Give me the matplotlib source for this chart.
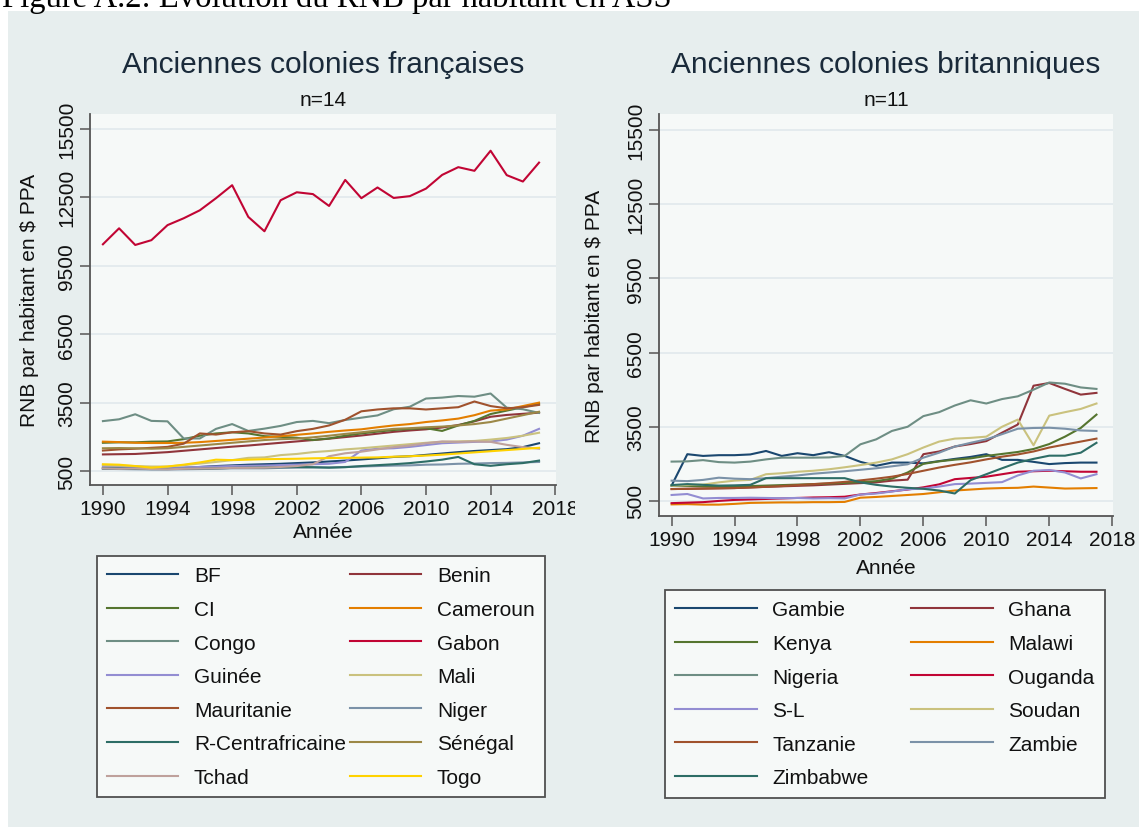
import matplotlib
matplotlib.use("Agg")
import matplotlib.pyplot as plt
from matplotlib.patches import Rectangle
from matplotlib.lines import Line2D
from matplotlib.transforms import Bbox, TransformedBbox

# ---------------- data ----------------
years = list(range(1990, 2018))

fr_names = ["BF", "Benin", "CI", "Cameroun", "Congo", "Gabon", "Guinée", "Mali",
            "Mauritanie", "Niger", "R-Centrafricaine", "Sénégal", "Tchad", "Togo"]

BF = [620, 630, 640, 630, 620, 640, 680, 720, 750, 780, 800, 820, 850, 880,
      920, 960, 1010, 1060, 1120, 1150, 1210, 1270, 1330, 1380, 1420, 1460, 1550, 1720]
Benin = [1230, 1240, 1250, 1290, 1330, 1390, 1450, 1510, 1570, 1620, 1680, 1740, 1800, 1860,
         1920, 1990, 2060, 2140, 2220, 2280, 2330, 2410, 2520, 2680, 2880, 2960, 3010, 3060]
CI = [1740, 1760, 1760, 1790, 1800, 1900, 2050, 2150, 2200, 2150, 2030, 2000, 1960, 1860,
      1930, 2050, 2150, 2230, 2300, 2350, 2380, 2260, 2500, 2700, 3000, 3150, 3300, 3450]
Cameroun = [1790, 1770, 1740, 1730, 1730, 1740, 1770, 1820, 1870, 1920, 1970, 2030, 2090, 2150,
            2220, 2280, 2330, 2420, 2500, 2560, 2650, 2720, 2800, 2950, 3150, 3200, 3350, 3500]
Congo = [2690, 2770, 2990, 2700, 2680, 1930, 1930, 2350, 2560, 2260, 2360, 2480, 2650, 2700,
         2600, 2740, 2840, 2940, 3210, 3320, 3680, 3720, 3790, 3760, 3900, 3280, 3210, 3050]
Gabon = [10440, 11140, 10410, 10620, 11280, 11580, 11930, 12460, 13030, 11640, 11010, 12370, 12720, 12640,
         12120, 13260, 12460, 12930, 12470, 12550, 12880, 13480, 13820, 13660, 14540, 13470, 13190, 14020]
Guinee = [700, 690, 680, 660, 650, 660, 680, 700, 720, 730, 740, 760, 780, 800,
          820, 900, 1400, 1480, 1500, 1560, 1640, 1720, 1750, 1780, 1800, 1880, 2050, 2350]
Mali = [760, 740, 720, 700, 700, 760, 830, 900, 980, 1080, 1100, 1200, 1250, 1330,
        1380, 1450, 1500, 1560, 1620, 1680, 1740, 1780, 1800, 1820, 1880, 1950, 2050, 2180]
Mauritanie = [1400, 1450, 1480, 1520, 1560, 1700, 2150, 2100, 2200, 2250, 2150, 2100, 2250, 2350,
              2500, 2750, 3120, 3200, 3250, 3250, 3200, 3250, 3300, 3550, 3350, 3250, 3300, 3400]
Niger = [600, 590, 580, 570, 570, 580, 590, 600, 620, 620, 620, 640, 650, 660,
         660, 680, 700, 720, 740, 750, 780, 790, 820, 830, 850, 860, 880, 900]
RCA = [620, 610, 600, 590, 590, 600, 600, 620, 640, 650, 660, 670, 680, 670,
       650, 670, 720, 760, 800, 850, 920, 1000, 1120, 800, 730, 800, 850, 960]
Senegal = [1500, 1510, 1500, 1480, 1500, 1560, 1620, 1680, 1740, 1800, 1860, 1900, 1920, 1980,
           2050, 2130, 2200, 2280, 2350, 2380, 2420, 2450, 2500, 2560, 2650, 2800, 2950, 3100]
Tchad = [620, 600, 610, 590, 580, 600, 610, 620, 640, 640, 650, 680, 720, 800,
         1150, 1280, 1350, 1450, 1550, 1620, 1720, 1800, 1780, 1800, 1780, 1650, 1550, 1480]
Togo = [800, 780, 720, 650, 700, 780, 880, 1000, 980, 1000, 1020, 1030, 1040, 1060,
        1070, 1080, 1090, 1100, 1130, 1150, 1180, 1220, 1270, 1320, 1370, 1420, 1470, 1520]

fr_series = [BF, Benin, CI, Cameroun, Congo, Gabon, Guinee, Mali,
             Mauritanie, Niger, RCA, Senegal, Tchad, Togo]

br_names = ["Gambie", "Ghana", "Kenya", "Malawi", "Nigeria", "Ouganda", "S-L",
            "Soudan", "Tanzanie", "Zambie", "Zimbabwe"]

Gambie = [1120, 2390, 2320, 2350, 2350, 2380, 2520, 2320, 2430, 2350, 2470, 2320, 2080, 1920,
          2050, 2050, 2020, 2110, 2200, 2280, 2390, 2160, 2160, 2080, 1990, 2030, 2050, 2050]
Ghana = [980, 990, 1000, 1010, 1020, 1050, 1070, 1090, 1110, 1130, 1160, 1190, 1220, 1250,
         1320, 1360, 2390, 2500, 2700, 2800, 2920, 3260, 3590, 5160, 5270, 5030, 4800, 4870]
Kenya = [1120, 1110, 1090, 1080, 1090, 1100, 1120, 1140, 1160, 1180, 1200, 1230, 1260, 1300,
         1400, 1650, 2000, 2100, 2170, 2220, 2320, 2400, 2480, 2600, 2800, 3100, 3450, 3990]
Malawi = [360, 370, 350, 350, 380, 420, 430, 440, 440, 450, 450, 460, 630, 660,
          700, 740, 780, 850, 920, 960, 1000, 1020, 1030, 1080, 1040, 1000, 1010, 1020]
Nigeria = [2090, 2100, 2150, 2070, 2050, 2090, 2180, 2250, 2250, 2250, 2260, 2320, 2790, 2990,
           3330, 3500, 3930, 4090, 4360, 4570, 4440, 4620, 4730, 5000, 5290, 5240, 5090, 5030]
Ouganda = [410, 430, 450, 500, 540, 560, 580, 600, 620, 640, 650, 670, 760, 820,
           890, 960, 1050, 1170, 1380, 1430, 1480, 1580, 1680, 1700, 1720, 1700, 1680, 1680]
SL = [740, 780, 600, 620, 620, 630, 620, 610, 620, 600, 610, 600, 760, 800,
      880, 970, 1000, 1080, 1180, 1200, 1230, 1260, 1530, 1720, 1750, 1650, 1410, 1580]
Soudan = [1120, 1150, 1160, 1250, 1320, 1350, 1580, 1620, 1680, 1720, 1780, 1860, 1950, 2050,
          2180, 2390, 2660, 2900, 3020, 3050, 3100, 3500, 3790, 2750, 3950, 4090, 4220, 4440]
Tanzanie = [980, 990, 1000, 1010, 1020, 1040, 1070, 1100, 1140, 1180, 1220, 1270, 1330, 1400,
            1480, 1590, 1720, 1850, 1960, 2060, 2180, 2290, 2380, 2500, 2660, 2780, 2900, 3020]
Zambie = [1320, 1300, 1350, 1440, 1400, 1380, 1420, 1480, 1530, 1600, 1650, 1700, 1760, 1820,
          1900, 1980, 2250, 2450, 2700, 2850, 2990, 3200, 3420, 3450, 3460, 3420, 3350, 3330]
Zimbabwe = [1140, 1180, 1150, 1120, 1130, 1150, 1420, 1420, 1420, 1420, 1420, 1420, 1250, 1150,
            1080, 1030, 990, 920, 800, 1340, 1580, 1820, 2050, 2200, 2330, 2330, 2450, 2850]

br_series = [Gambie, Ghana, Kenya, Malawi, Nigeria, Ouganda, SL, Soudan, Tanzanie, Zambie, Zimbabwe]

yticks = [500, 3500, 6500, 9500, 12500, 15500]
xticks = [1990, 1994, 1998, 2002, 2006, 2010, 2014, 2018]

# Stata s2color palette
palette = ["#1a476f", "#90353b", "#55752f", "#e37e00", "#6e8e84", "#c10534", "#938dd2",
           "#cac27e", "#a0522d", "#7b92a8", "#2d6d66", "#9c8847", "#bfa19c", "#ffd200"]

BG = "#e7eeee"
PLOT = "#f6f9f8"
GRID = "#e1e9ed"
AXC = "#555555"
FONT = "Liberation Sans"
TXT = "#111111"

W, H = 1139, 828
fig = plt.figure(figsize=(W / 100, H / 100), dpi=100)
fig.patch.set_facecolor("white")
fig.patches.append(Rectangle((8 / W, 0), 1 - 8 / W, 1 - 12 / H, transform=fig.transFigure,
                             facecolor=BG, edgecolor="none", zorder=-10))

fig.text(2 / W, 1 - 7 / H, "Figure A.2: Evolution du RNB par habitant en ASS",
         family="Liberation Serif", fontsize=23.5, va="baseline", ha="left", color="black")


def px_rect(x0, y0, x1, y1):
    return [x0 / W, 1 - y1 / H, (x1 - x0) / W, (y1 - y0) / H]


def panel(rect_px, names, series, title, ntext, leg_px, ylab_x, xlab_y, handlelen, clip_last=None):
    x0, y0, x1, y1 = rect_px
    ax = fig.add_axes(px_rect(*rect_px))
    ax.set_facecolor(PLOT)
    for i, (nm, s) in enumerate(zip(names, series)):
        ax.plot(years, s, color=palette[i], lw=1.5, label=nm, solid_joinstyle="round")
    ax.set_xlim(1989.2, 2018.05)
    ax.set_ylim(-110, 16150)
    ax.set_yticks(yticks)
    ax.set_yticklabels([str(v) for v in yticks], rotation=90, va="center",
                       fontsize=15, family=FONT, color=TXT)
    ax.set_xticks(xticks)
    ax.set_xticklabels([str(v) for v in xticks], fontsize=15, family=FONT, color=TXT)
    ax.tick_params(axis="both", direction="out", length=7, width=1.1, color=AXC, pad=3)
    ax.yaxis.grid(True, color=GRID, lw=1.2)
    ax.set_axisbelow(True)
    for sp in ["top", "right"]:
        ax.spines[sp].set_visible(False)
    for sp in ["left", "bottom"]:
        ax.spines[sp].set_color(AXC)
        ax.spines[sp].set_linewidth(1.3)
    ax.set_ylabel("RNB par habitant en $ PPA", fontsize=15, family=FONT, color=TXT)
    ax.yaxis.set_label_coords((ylab_x - x0) / (x1 - x0), 0.5)
    ax.yaxis.label.set_va("center")
    ax.set_xlabel("Année", fontsize=15, family=FONT, color=TXT)
    ax.xaxis.set_label_coords(0.5, -(xlab_y - y1) / (y1 - y0))
    ax.xaxis.label.set_va("center")
    cx = (x0 + x1) / 2
    fig.text(cx / W, 1 - 65 / H, title, fontsize=21.5, family=FONT, ha="center", va="center",
             color="#1a2a3a")
    fig.text(cx / W, 1 - 100 / H, ntext, fontsize=15, family=FONT, ha="center", va="center",
             color=TXT)
    if clip_last is not None:
        lab = ax.get_xticklabels()[-1]
        lab.set_clip_box(TransformedBbox(Bbox.from_extents(0, 0, clip_last / W, 1), fig.transFigure))
        lab.set_clip_on(True)
    # legend, row-wise order like Stata
    handles = [Line2D([], [], color=palette[i], lw=1.5) for i in range(len(names))]
    order = list(range(0, len(names), 2)) + list(range(1, len(names), 2))
    lx0, ly0, lx1, ly1 = leg_px
    leg = ax.legend([handles[i] for i in order], [names[i] for i in order],
                    loc="upper left", bbox_to_anchor=(lx0 / W, 1 - ly1 / H, (lx1 - lx0) / W, (ly1 - ly0) / H),
                    bbox_transform=fig.transFigure, mode="expand", ncol=2, borderaxespad=0,
                    frameon=True, fancybox=False, handlelength=handlelen, handletextpad=0.75,
                    labelspacing=0.70, borderpad=0.5, prop={"family": FONT, "size": 15})
    for t in leg.get_texts():
        t.set_color(TXT)
    fr = leg.get_frame()
    fr.set_facecolor(PLOT)
    fr.set_edgecolor("#505050")
    fr.set_linewidth(1.3)
    fr.set_alpha(1)
    return ax


panel((90, 115, 556, 486), fr_names, fr_series, "Anciennes colonies françaises", "n=14",
      (97, 557, 545, 799), 30, 533, 3.4, clip_last=575)
panel((659, 115, 1113, 517), br_names, br_series, "Anciennes colonies britanniques", "n=11",
      (665, 591, 1105, 798), 595, 568, 3.9)

fig.savefig("out.png", dpi=100, facecolor=fig.get_facecolor())
